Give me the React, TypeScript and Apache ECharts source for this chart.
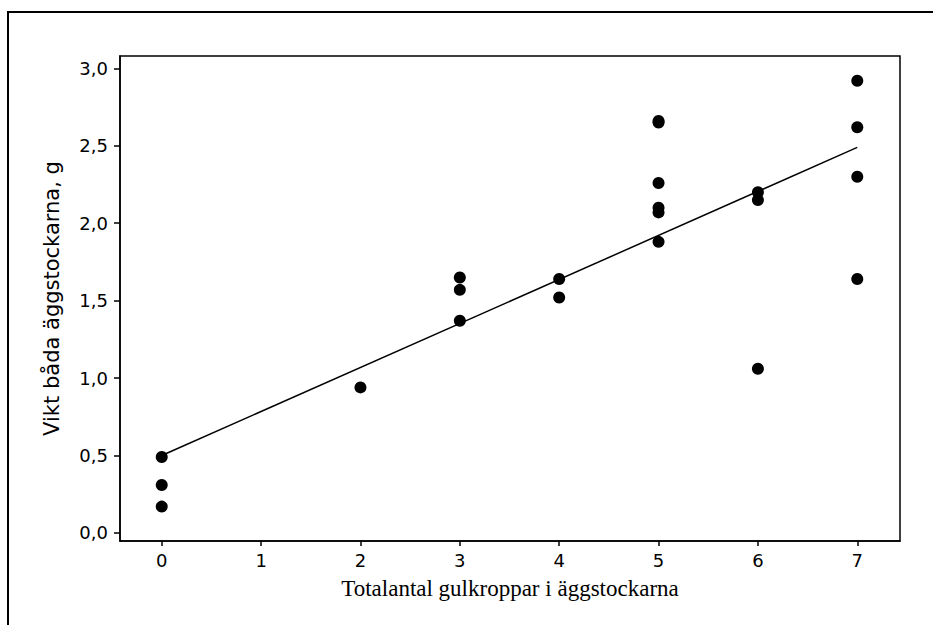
import React, { useEffect, useRef } from "react";
import * as echarts from "echarts";

const X_VALUES = [0, 0, 0, 2, 3, 3, 3, 4, 4, 5, 5, 5, 5, 5, 5, 6, 6, 6, 7, 7, 7, 7];
const Y_VALUES = [0.49, 0.31, 0.17, 0.94, 1.65, 1.57, 1.37, 1.64, 1.52, 2.66, 2.65, 2.26, 2.10, 2.07, 1.88, 2.20, 2.15, 1.06, 2.92, 2.62, 2.30, 1.64];
const FIT_X = [0, 7];
const FIT_Y = [0.5, 2.49];
const X_TICKS = [0, 1, 2, 3, 4, 5, 6, 7];
const Y_TICKS = [0, 0.5, 1, 1.5, 2, 2.5, 3];
const X_TITLE = "Totalantal gulkroppar i äggstockarna";
const Y_TITLE = "Vikt båda äggstockarna, g";

export default function App() {
  const ref = useRef<HTMLDivElement>(null);
  useEffect(() => {
    if (!ref.current) return;
    const chart = echarts.init(ref.current, null, { renderer: "svg" });
    const points = X_VALUES.map((x, i) => [x, Y_VALUES[i]]);
    const fit = FIT_X.map((x, i) => [x, FIT_Y[i]]);
    chart.setOption({
      animation: false,
      backgroundColor: "#ffffff",
      grid: {
        left: 120,
        top: 56,
        right: 33,
        bottom: 84,
        show: true,
        borderColor: "#000",
        borderWidth: 1.5,
        containLabel: false,
      },
      xAxis: {
        type: "value",
        min: -0.42,
        max: 7.43,
        name: X_TITLE,
        nameLocation: "middle",
        nameGap: 36,
        nameTextStyle: { fontFamily: "Liberation Serif", fontSize: 23, color: "#000" },
        axisLine: { show: true, onZero: false, lineStyle: { color: "#000", width: 1.5 } },
        axisTick: { show: true, length: 5, customValues: X_TICKS, lineStyle: { color: "#000", width: 1.5 } },
        axisLabel: {
          customValues: X_TICKS,
          margin: 10,
          fontFamily: "DejaVu Sans",
          fontSize: 18,
          color: "#000",
          formatter: (v: number) => String(v),
        },
        splitLine: { show: false },
      },
      yAxis: {
        type: "value",
        min: -0.052,
        max: 3.08,
        name: Y_TITLE,
        nameLocation: "middle",
        nameGap: 58,
        nameRotate: 90,
        nameTextStyle: { fontFamily: "DejaVu Sans", fontSize: 21, color: "#000" },
        axisLine: { show: true, onZero: false, lineStyle: { color: "#000", width: 1.5 } },
        axisTick: { show: true, length: 6, customValues: Y_TICKS, lineStyle: { color: "#000", width: 1.5 } },
        axisLabel: {
          customValues: Y_TICKS,
          margin: 12,
          fontFamily: "DejaVu Sans",
          fontSize: 18,
          color: "#000",
          formatter: (v: number) => v.toFixed(1).replace(".", ","),
        },
        splitLine: { show: false },
      },
      graphic: [
        {
          type: "polyline",
          shape: { points: [[8, 625], [8, 12], [933, 12]] },
          style: { stroke: "#000", lineWidth: 2, fill: null },
          silent: true,
        },
      ],
      series: [
        {
          type: "line",
          data: fit,
          showSymbol: false,
          symbol: "none",
          lineStyle: { color: "#000", width: 1.5 },
          z: 2,
        },
        {
          type: "scatter",
          data: points,
          symbol: "circle",
          symbolSize: 12,
          itemStyle: { color: "#000", opacity: 1 },
          z: 3,
        },
      ],
    });
    return () => chart.dispose();
  }, []);
  return (
    <div
      ref={ref}
      style={{ position: "fixed", left: 0, top: 0, width: 933, height: 625, background: "#fff" }}
    />
  );
}
